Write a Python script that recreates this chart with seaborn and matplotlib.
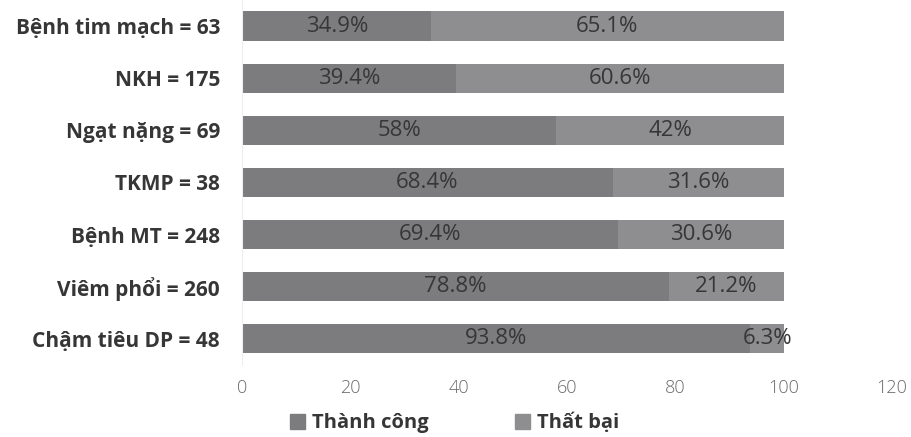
import matplotlib
matplotlib.use("Agg")
import matplotlib.pyplot as plt
from matplotlib.patches import Patch
import seaborn as sns
import pandas as pd

categories = ["Bệnh tim mạch = 63", "NKH = 175", "Ngạt nặng = 69", "TKMP = 38",
              "Bệnh MT = 248", "Viêm phổi = 260", "Chậm tiêu DP = 48"]
success = [34.9, 39.4, 58, 68.4, 69.4, 78.8, 93.8]
failure = [65.1, 60.6, 42, 31.6, 30.6, 21.2, 6.3]
success_labels = ["34.9%", "39.4%", "58%", "68.4%", "69.4%", "78.8%", "93.8%"]
failure_labels = ["65.1%", "60.6%", "42%", "31.6%", "30.6%", "21.2%", "6.3%"]
xticks = [0, 20, 40, 60, 80, 100, 120]

c_success = "#7c7c7e"
c_failure = "#8e8e91"
txt = "#363636"

sns.set_theme(style="white")
plt.rcParams["font.family"] = ["Open Sans", "DejaVu Sans"]

df = pd.DataFrame({"cat": categories, "success": success, "failure": failure})
df["total"] = df["success"] + df["failure"]

fig = plt.figure(figsize=(9.11, 4.37), dpi=100)
ax = fig.add_axes([0.266, 0.165, 0.713, 0.835])

# stacked bars: total in the failure colour, success drawn over it
sns.barplot(data=df, y="cat", x="total", color=c_failure, saturation=1,
            width=0.56, ax=ax, orient="h", linewidth=0)
sns.barplot(data=df, y="cat", x="success", color=c_success, saturation=1,
            width=0.56, ax=ax, orient="h", linewidth=0)

for i, (s, f, sl, fl) in enumerate(zip(success, failure, success_labels, failure_labels)):
    ax.text(s / 2, i, sl, ha="center", va="center", fontsize=16, color=txt)
    ax.text(s + f / 2, i, fl, ha="center", va="center", fontsize=16, color=txt)

ax.set_xlim(0, 120)
ax.set_ylim(6.5, -0.5)
ax.set_xticks(xticks)
ax.set_xticklabels([str(t) for t in xticks], fontsize=13, color="#6a6a6a",
                   fontweight="light")
ax.tick_params(axis="x", length=0, pad=10)
ax.tick_params(axis="y", length=0, pad=16)
for lab in ax.get_yticklabels():
    lab.set_fontsize(15)
    lab.set_fontweight("bold")
    lab.set_color(txt)
ax.set_xlabel("")
ax.set_ylabel("")
for side in ["top", "right", "bottom"]:
    ax.spines[side].set_visible(False)
ax.spines["left"].set_color("#eeeeee")
ax.spines["left"].set_linewidth(0.8)

handles = [Patch(color=c_success, label="Thành công"),
           Patch(color=c_failure, label="Thất bại")]
leg = fig.legend(handles=handles, loc="center left",
                 bbox_to_anchor=(0.318, 1 - 423 / 437),
                 ncol=2, frameon=False, handlelength=0.75, handleheight=0.75,
                 handletextpad=0.35, columnspacing=4.3, borderpad=0,
                 borderaxespad=0, prop={"size": 14.5, "weight": "bold"})
for t in leg.get_texts():
    t.set_color(txt)

fig.savefig("out.png", dpi=100)
